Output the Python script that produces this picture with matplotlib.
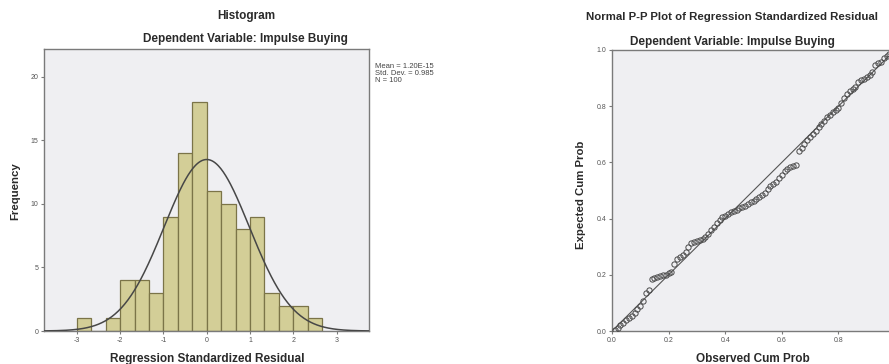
import numpy as np
import matplotlib
matplotlib.use("Agg")
import matplotlib.pyplot as plt

plt.rcParams['font.family'] = ['Liberation Sans', 'DejaVu Sans']
plt.rcParams['axes.unicode_minus'] = False

# histogram of regression standardized residuals (bin width 1/3)
bin_start = -3.0
bin_width = 1 / 3
counts = [1, 0, 1, 4, 4, 3, 9, 14, 18, 11, 10, 8, 9, 3, 2, 2, 1]
res_mean = 1.20e-15
res_sd = 0.985
n_obs = 100
hist_xticks = [-3, -2, -1, 0, 1, 2, 3]
hist_yticks = [0, 5, 10, 15, 20]

# normal P-P plot
observed_cum = [0.01, 0.02, 0.03, 0.04, 0.05, 0.06, 0.07, 0.08, 0.09, 0.10,
                0.11, 0.12, 0.13, 0.14, 0.15, 0.16, 0.17, 0.18, 0.19, 0.20,
                0.21, 0.22, 0.23, 0.24, 0.25, 0.26, 0.27, 0.28, 0.29, 0.30,
                0.31, 0.32, 0.33, 0.34, 0.35, 0.36, 0.37, 0.38, 0.39, 0.40,
                0.41, 0.42, 0.43, 0.44, 0.45, 0.46, 0.47, 0.48, 0.49, 0.50,
                0.51, 0.52, 0.53, 0.54, 0.55, 0.56, 0.57, 0.58, 0.59, 0.60,
                0.61, 0.62, 0.63, 0.64, 0.65, 0.66, 0.67, 0.68, 0.69, 0.70,
                0.71, 0.72, 0.73, 0.74, 0.75, 0.76, 0.77, 0.78, 0.79, 0.80,
                0.81, 0.82, 0.83, 0.84, 0.85, 0.86, 0.87, 0.88, 0.89, 0.90,
                0.91, 0.92, 0.93, 0.94, 0.95, 0.96, 0.97, 0.98, 0.99, 1.00]
expected_cum = [0.004, 0.012, 0.022, 0.030, 0.038, 0.045, 0.055, 0.065, 0.078, 0.088,
                0.105, 0.135, 0.145, 0.185, 0.190, 0.193, 0.195, 0.198, 0.200, 0.205,
                0.210, 0.240, 0.255, 0.265, 0.272, 0.282, 0.300, 0.312, 0.318, 0.322,
                0.325, 0.328, 0.333, 0.345, 0.358, 0.370, 0.385, 0.395, 0.405, 0.410,
                0.418, 0.422, 0.428, 0.432, 0.436, 0.440, 0.445, 0.452, 0.458, 0.462,
                0.470, 0.478, 0.485, 0.492, 0.505, 0.515, 0.522, 0.532, 0.545, 0.555,
                0.568, 0.578, 0.585, 0.588, 0.592, 0.640, 0.652, 0.665, 0.680, 0.690,
                0.700, 0.712, 0.725, 0.735, 0.748, 0.762, 0.770, 0.778, 0.785, 0.792,
                0.810, 0.830, 0.845, 0.855, 0.860, 0.868, 0.885, 0.892, 0.898, 0.905,
                0.912, 0.920, 0.945, 0.952, 0.958, 0.972, 0.978, 0.985, 0.988, 0.998]
pp_ticks = [0.0, 0.2, 0.4, 0.6, 0.8, 1.0]

W, H = 889, 364
fig = plt.figure(figsize=(W / 100, H / 100), dpi=100)
fig.patch.set_facecolor('white')

face = '#efeff2'
spine_c = '#7a7a7a'
text_c = '#2a2a2a'


def px_axes(x0, y0, x1, y1):
    # pixel box (top-left origin) -> figure fraction axes
    return fig.add_axes([x0 / W, 1 - y1 / H, (x1 - x0) / W, (y1 - y0) / H])


def style(ax):
    ax.set_facecolor(face)
    for s in ax.spines.values():
        s.set_color(spine_c)
        s.set_linewidth(1.0)
    ax.tick_params(direction='out', length=2.5, width=0.8, color=spine_c,
                   labelsize=5, labelcolor='#555555', pad=1.5,
                   top=False, right=False)


def ftext(x, y, s, **kw):
    fig.text(x / W, 1 - y / H, s, **kw)


# ---- histogram ----
ax1 = px_axes(44, 49, 369, 331)
style(ax1)
edges = bin_start + bin_width * np.arange(len(counts))
ax1.bar(edges, counts, width=bin_width, align='edge', color='#d3ce97',
        edgecolor='#7b7448', linewidth=0.9, zorder=2)
xs = np.linspace(-3.76, 3.75, 400)
curve = n_obs * bin_width / (res_sd * np.sqrt(2 * np.pi)) * np.exp(-0.5 * ((xs - res_mean) / res_sd) ** 2)
ax1.plot(xs, curve, color='#474747', linewidth=1.1, zorder=3)
ax1.set_xlim(-3.76, 3.75)
ax1.set_ylim(0, 22.2)
ax1.set_xticks(hist_xticks)
ax1.set_yticks(hist_yticks)

ftext(375, 63, f"Mean = {res_mean:.2E}\nStd. Dev. = {res_sd}\nN = {n_obs}",
      fontsize=5.5, color='#444444', va='top', ha='left', linespacing=1.05)

ftext(246, 16, "Histogram", fontsize=8.5, fontweight='bold', color=text_c,
      ha='center', va='center')
ftext(245, 39, "Dependent Variable: Impulse Buying", fontsize=8.5,
      fontweight='bold', color=text_c, ha='center', va='center')
ftext(207, 359, "Regression Standardized Residual", fontsize=8.5,
      fontweight='bold', color=text_c, ha='center', va='center')
ftext(15, 191, "Frequency", fontsize=8.2, fontweight='bold', color=text_c,
      ha='center', va='center', rotation=90)

# ---- P-P plot ----
ax2 = px_axes(612, 50, 895, 331)
style(ax2)
ax2.plot([0, 1], [0, 1], color='#555555', linewidth=0.8, zorder=2)
ax2.plot(observed_cum, expected_cum, linestyle='none', marker='o',
         markersize=3.8, markerfacecolor='none', markeredgecolor='#4a4a4a',
         markeredgewidth=0.7, zorder=3)
ax2.set_xlim(0, 1)
ax2.set_ylim(0, 1)
ax2.set_xticks(pp_ticks)
ax2.set_yticks(pp_ticks)
ax2.set_xticklabels([f"{t:.1f}" for t in pp_ticks])
ax2.set_yticklabels([f"{t:.1f}" for t in pp_ticks])

ftext(732, 17, "Normal P-P Plot of Regression Standardized Residual",
      fontsize=8.2, fontweight='bold', color=text_c, ha='center', va='center')
ftext(732, 42, "Dependent Variable: Impulse Buying", fontsize=8.5,
      fontweight='bold', color=text_c, ha='center', va='center')
ftext(753, 359, "Observed Cum Prob", fontsize=8.5, fontweight='bold',
      color=text_c, ha='center', va='center')
ftext(581, 195, "Expected Cum Prob", fontsize=8.2, fontweight='bold',
      color=text_c, ha='center', va='center', rotation=90)

fig.savefig('out.png', dpi=100, facecolor='white')
